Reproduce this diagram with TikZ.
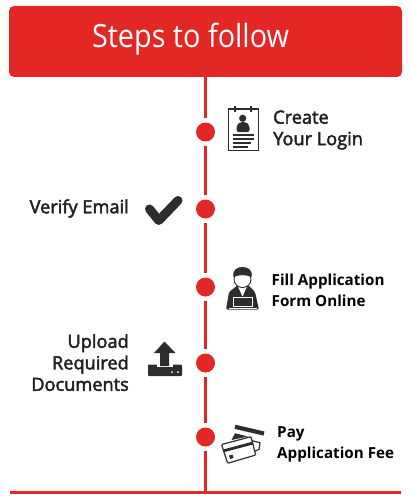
\documentclass[tikz,border=0pt]{standalone}
\usepackage{fontspec}
\setmainfont{Open Sans}
\newfontfamily\midfont[FakeBold=2.4]{Open Sans}
\newfontfamily\titlefont[FakeStretch=0.9]{Open Sans}
\usepackage{tikz}
\usetikzlibrary{arrows.meta,positioning,calc}
\definecolor{stepred}{RGB}{226,39,37}
\definecolor{icondark}{RGB}{45,45,45}
\tikzset{
  titlebox/.style={fill=stepred, rounded corners=5pt, minimum width=393pt, minimum height=71pt, text=white, inner sep=0pt},
  stepdot/.style={circle, fill=stepred, minimum size=19pt, inner sep=0pt, outer sep=4.5pt},
  spine/.style={stepred, line width=3.6pt},
  baseln/.style={stepred, line width=3pt},
  steptext/.style={text=black!88, inner sep=0pt, font=\midfont\fontsize{18.2}{21.5}\selectfont},
  boldtext/.style={text=black, inner sep=0pt, font=\bfseries\fontsize{15.2}{21.5}\selectfont},
  iconln/.style={draw=icondark, line width=1.2pt},
  iconfill/.style={fill=icondark},
}
\begin{document}
\begin{tikzpicture}[x=1pt,y=-1pt]
    \useasboundingbox (0,0) rectangle (410,500);
    % header
    \node[titlebox] (title) at (205.5,41.5) {};
    \node[text=white, inner sep=0pt, font=\titlefont\fontsize{32}{38}\selectfont, anchor=base] (titletext) at (190.5,48) {Steps to follow};
    % timeline
    \node[stepdot] (login) at (205.5,132) {};
    \node[stepdot] (verify) at (205.5,209) {};
    \node[stepdot] (fill) at (205.5,287) {};
    \node[stepdot] (upload) at (205.5,363) {};
    \node[stepdot] (pay) at (205.5,437) {};
    \coordinate (base) at (205.5,492);
    \coordinate (baseL) at (10,492);
    \coordinate (baseR) at (401,492);
    \draw[spine] (title) -- (login);
    \draw[spine] (login) -- (verify);
    \draw[spine] (verify) -- (fill);
    \draw[spine] (fill) -- (upload);
    \draw[spine] (upload) -- (pay);
    \draw[spine] (pay) -- (base);
    \draw[baseln] (baseL) -- (baseR);
    % labels
    \node[steptext, align=left, anchor=west] (logintext) at (273,130) {Create\\Your Login};
    \node[steptext, anchor=east] (verifytext) at (129,208.5) {Verify Email};
    \node[boldtext, align=left, anchor=west] (filltext) at (271.5,290.5) {Fill Application\\Form Online};
    \node[steptext, align=right, anchor=east] (uploadtext) at (129,362.5) {Upload\\Required\\Documents};
    \node[boldtext, align=left, anchor=west] (paytext) at (277,444.5) {Pay\\Application Fee};
    % login icon
    \draw[iconln, fill=white] (228.5,109) rectangle (258.5,150.5);
    \draw[icondark, line width=1.6pt] (235,106.5) -- (235,112.5);
    \draw[icondark, line width=1.6pt] (251,106.5) -- (251,112.5);
    \fill[iconfill] (242.7,118.3) circle (3.6pt);
    \fill[iconfill, rounded corners=2pt] (236.5,132) -- (236.5,125.5) -- (240,122) -- (246,122) -- (249.5,125.5) -- (249.5,132) -- cycle;
    \foreach \ly/\lx in {135/20.6, 139/20.6, 143/18, 146.7/15}{
      \draw[icondark, line width=1.6pt] (233,\ly) -- ++(\lx,0);
    }
    % check icon
    \draw[icondark, line width=9pt, line cap=round, line join=round] (149.5,209) -- (158.8,220.5) -- (178,200.5);
    % person icon
    \fill[iconfill, rounded corners=1.5pt] (226,309.5) -- (229,292) -- (238,285) -- (248,285) -- (255,292) -- (259,309.5) -- cycle;
    \fill[white] (237.5,285.5) -- (247.5,285.5) -- (242.5,296.5) -- cycle;
    \draw[icondark, fill=white, line width=0.9pt] (242.5,279.5) ellipse (8.5pt and 8pt);
    \fill[iconfill] (233.5,277) .. controls (232,270) and (237,267) .. (242.5,267) .. controls (248,267) and (253,270) .. (251.5,277) .. controls (246,274.5) and (239,274.5) .. (233.5,277);
    \draw[white, line width=1pt] (233.5,297) rectangle (252.5,306.5);
    \draw[white, line width=1pt] (228.5,308) -- (256.5,308);
    % upload icon
    \fill[iconfill, rounded corners=1pt] (148,364.5) rectangle (182,376);
    \fill[white] (157,364) rectangle (173,367);
    \fill[iconfill] (164.5,341.5) -- (175.5,353) -- (169,353) -- (169,366) -- (160,366) -- (160,353) -- (154,353) -- cycle;
    \fill[white] (172,372) circle (1pt);
    \fill[white] (178,372) circle (1pt);
    % card icon
    \draw[icondark, line width=4.2pt] (235,426.8) -- (264,433.5);
    \fill[iconfill] (231.5,440) -- (235,433.3) -- (248,436.5) -- cycle;
    \draw[iconln, line join=round] (252,440.7) -- (260,442.7) -- (259,449.5) -- (255,451);
    \draw[iconln, fill=white, rounded corners=1pt] (221.5,444.5) -- (251,436.7) -- (255.7,455) -- (227.7,463.3) -- cycle;
    \draw[icondark, line width=2.8pt] (223,451) -- (253,443);
    \fill[iconfill] (229,455.5) -- (232.5,454.5) -- (233.5,458) -- (230,459) -- cycle;
  \end{tikzpicture}
\end{document}
